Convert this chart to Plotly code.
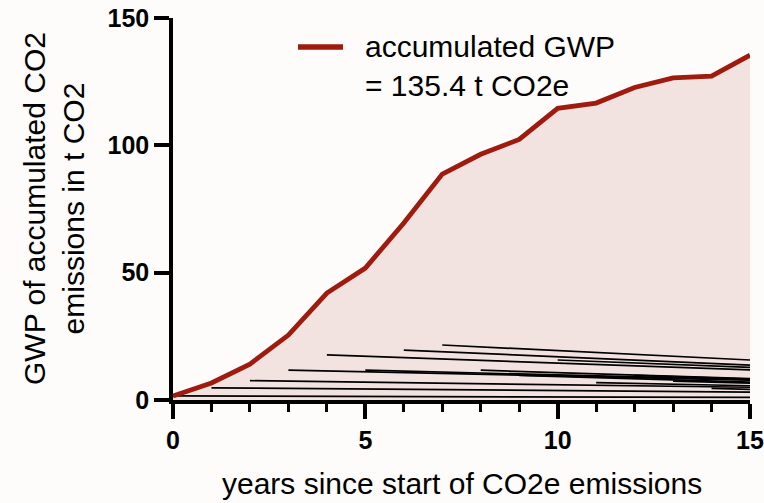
import plotly.graph_objects as go

# ---- data ----
years = list(range(0, 16))
accumulated_gwp = [1.6, 6.7, 14.1, 25.5, 42.0, 51.8, 69.5, 88.7, 96.5, 102.3,
                   114.5, 116.6, 122.7, 126.5, 127.2, 135.4]

# individual yearly contributions: start year, value at start, value at year 15
line_start_years = [0, 1, 2, 3, 4, 5, 6, 7, 8, 9, 10, 11, 12, 13, 14, 15]
line_start_values = [1.6, 4.8, 7.6, 11.7, 17.7, 11.7, 19.6, 21.6, 11.7, 9.7,
                     15.7, 6.8, 9.7, 7.4, 4.6, 12.2]
line_end_values = [1.0, 3.1, 5.0, 7.8, 11.8, 8.0, 13.7, 15.7, 8.4, 7.0,
                   12.8, 5.6, 8.2, 6.6, 4.2, 12.2]
end_year = 15

x_ticks = [0, 5, 10, 15]
y_ticks = [0, 50, 100, 150]
legend_label = "accumulated GWP<br>= 135.4 t CO2e"
x_title = "years since start of CO2e emissions"
y_title = "GWP of accumulated CO2<br>emissions in t CO2"

RED = "#9e1b0e"
FILL = "#f2e3e1"
BG = "#fdfcfb"
FONT = "Liberation Sans, Arial, sans-serif"

fig = go.Figure()

# filled area under the accumulated curve
fig.add_trace(go.Scatter(x=years, y=accumulated_gwp, mode="lines",
                         line=dict(width=0, color=RED), fill="tozeroy",
                         fillcolor=FILL, hoverinfo="skip", showlegend=False))

# black lines for each year's contribution
for sy, sv, ev in zip(line_start_years, line_start_values, line_end_values):
    if sy >= end_year:
        continue
    fig.add_trace(go.Scatter(x=[sy, end_year], y=[sv, ev], mode="lines",
                             line=dict(color="black", width=1.7),
                             showlegend=False))

# accumulated line on top
fig.add_trace(go.Scatter(x=years, y=accumulated_gwp, mode="lines",
                         line=dict(color=RED, width=4.8), showlegend=False))

L, R, T, B = 173, 14, 18, 103
W, H = 764, 503
pw = W - L - R
ph = H - T - B


def px_x(p):
    return (p - L) / pw


def px_y(p):
    return (H - B - p) / ph


# manual legend
fig.add_shape(type="line", xref="paper", yref="paper",
              x0=px_x(298), x1=px_x(343), y0=px_y(47), y1=px_y(47),
              line=dict(color=RED, width=5.5))
fig.add_annotation(xref="paper", yref="paper", x=px_x(363), y=px_y(66),
                   xanchor="left", yanchor="middle", align="left",
                   text=legend_label, showarrow=False,
                   font=dict(family=FONT, size=30, color="black"))

# axis titles
fig.add_annotation(xref="paper", yref="paper", x=0.5, y=px_y(483),
                   xanchor="center", yanchor="middle", text=x_title,
                   showarrow=False, font=dict(family=FONT, size=30, color="black"))
fig.add_annotation(xref="paper", yref="paper", x=px_x(54), y=0.5,
                   xanchor="center", yanchor="middle", text=y_title,
                   textangle=-90, showarrow=False,
                   font=dict(family=FONT, size=30, color="black"))

fig.update_layout(
    width=W, height=H,
    margin=dict(l=L, r=R, t=T, b=B, autoexpand=False),
    paper_bgcolor=BG, plot_bgcolor=BG,
    showlegend=False,
)
fig.update_xaxes(range=[0, 15], tickvals=x_ticks, ticks="outside", ticklen=15,
                 tickwidth=3.5, tickcolor="black", showline=True, linewidth=3.5,
                 linecolor="black", showgrid=False, zeroline=False, automargin=False,
                 tickfont=dict(family=FONT, size=25, color="black", weight="bold"),
                 minor=dict(dtick=1, ticks="outside", ticklen=8, tickwidth=3,
                            tickcolor="black", showgrid=False))
fig.update_yaxes(range=[0, 150], tickvals=y_ticks, ticks="outside", ticklen=15,
                 tickwidth=3.5, tickcolor="black", showline=True, linewidth=3.5,
                 linecolor="black", showgrid=False, zeroline=False, automargin=False,
                 tickfont=dict(family=FONT, size=25, color="black", weight="bold"))

fig.write_html("out.html", config={"displayModeBar": False},
               post_script="document.body.style.margin='0';document.body.style.background='%s';" % BG)
